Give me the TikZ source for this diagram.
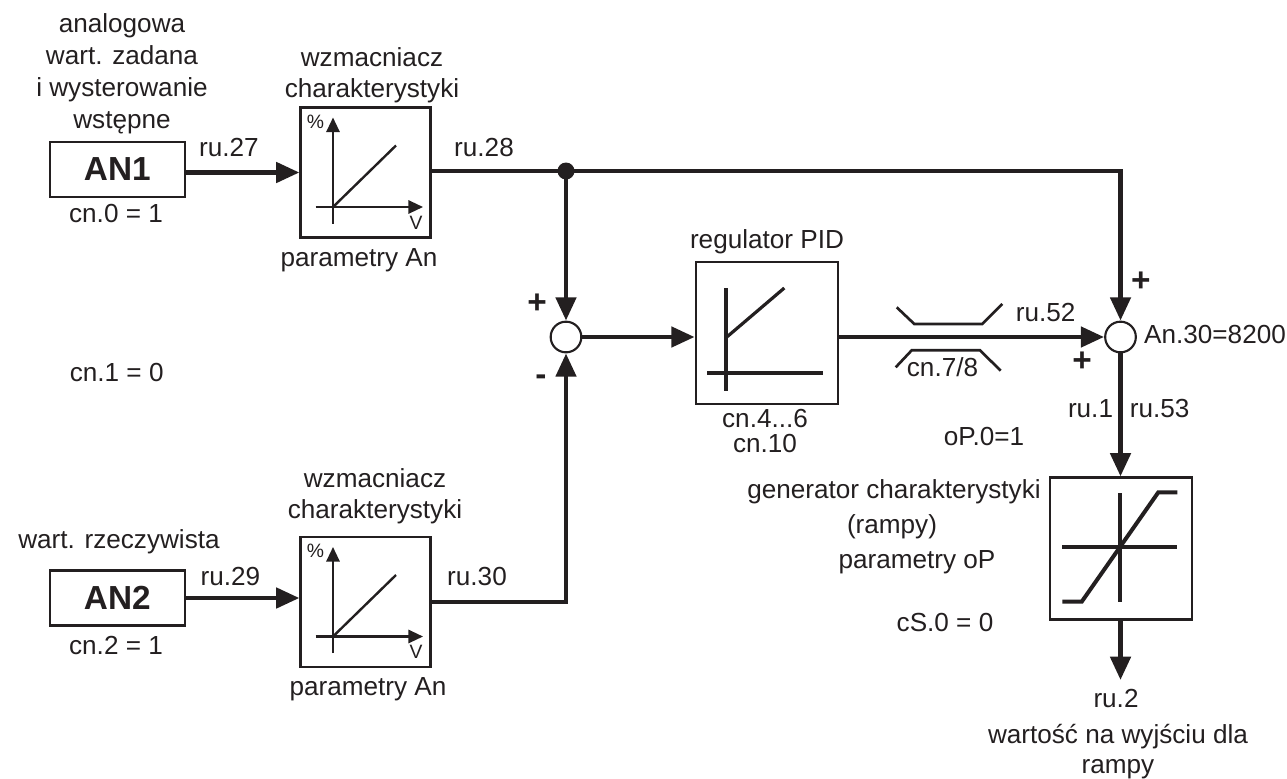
\documentclass[tikz,border=0pt]{standalone}
\usepackage{fontspec}
\setmainfont{Liberation Sans}
\usetikzlibrary{arrows.meta,positioning,calc}
\definecolor{ink}{HTML}{231F20}
\tikzset{lbl/.style={text=ink,font=\fontsize{19.6}{24}\selectfont,align=center,inner sep=0pt,anchor=base},
blok/.style={draw=ink,line width=1.6pt,fill=white,inner sep=0pt},
anbox/.style={blok,minimum width=101pt,minimum height=41.25pt,font=\fontsize{25}{28}\selectfont\bfseries,text=ink},
wzbox/.style={blok,minimum width=97.5pt,minimum height=97.5pt},
bigbox/.style={blok,minimum width=106.5pt,minimum height=106.5pt},
sumnode/.style={circle,draw=ink,line width=1.6pt,fill=white,minimum size=23pt,inner sep=0pt},
sign/.style={text=ink,font=\fontsize{25}{28}\selectfont\bfseries,inner sep=0pt},
arr/.style={-{Triangle[length=17.5pt,width=15pt]},line width=3.6pt,draw=ink},
conn/.style={line width=3.6pt,draw=ink},
axis/.style={-{Triangle[length=11pt,width=10pt]},line width=1.6pt,draw=ink},
cienka/.style={line width=1.8pt,draw=ink},
mid/.style={line width=3pt,draw=ink},
ogr/.style={line width=2pt,draw=ink}}
\begin{document}
\begin{tikzpicture}[x=0.75pt,y=-0.75pt]
\useasboundingbox (0,0) rectangle (1287,778);
% wejscia i bloki
\node[anbox](an1) at (117.3,169.5){AN1};
\node[anbox](an2) at (117.3,598){AN2};
\node[wzbox](wz1) at (365.5,172.5){};
\node[wzbox](wz2) at (365.5,602){};
\node[bigbox](pid) at (766.7,332.7){};
\node[bigbox](gen) at (1121,548.5){};
\node[sumnode](s1) at (566,337){};
\node[sumnode](s2) at (1120.5,337){};
\coordinate (jn) at (566,171);
\coordinate (wy) at (1120.5,680);
% polaczenia
\draw[arr](an1.east|-wz1)--(wz1);
\draw[arr](an2)--(an2-|wz2.west);
\draw[conn](wz1.east|-jn)--(jn);
\draw[arr](jn)--(s1);
\draw[arr](jn)-|(s2);
\fill[ink](jn) circle (8.5);
\draw[arr](wz2)-|(s1);
\draw[arr](s1)--(s1-|pid.west);
\draw[arr](pid.east|-s2)--(s2);
\draw[arr](s2)--(s2|-gen.north);
\draw[arr](s2|-gen.south)--(wy);
% charakterystyki
\foreach \n in {wz1,wz2}{
\draw[axis]($(\n)+(-32.5,51)$)--($(\n)+(-32.5,-55)$);
\draw[axis]($(\n)+(-50,34.5)$)--($(\n)+(57.5,34.5)$);
\draw[cienka]($(\n)+(-32.5,34.5)$)--($(\n)+(30.5,-27)$);
\node[lbl,font=\fontsize{14.5}{16}\selectfont,anchor=center](\n p) at ($(\n)+(-50,-51)$){\%};
\node[lbl,font=\fontsize{14.5}{16}\selectfont,anchor=center](\n v) at ($(\n)+(50.5,50)$){V};
}
\draw[mid]($(pid)+(-40.7,-44.7)$)--($(pid)+(-40.7,58)$);
\draw[mid]($(pid)+(-59.7,40.6)$)--($(pid)+(56,40.6)$);
\draw[cienka,line width=2.4pt]($(pid)+(-40.7,5)$)--($(pid)+(17.6,-44.7)$);
\draw[mid]($(gen)+(-58.7,-1.2)$)--($(gen)+(56.3,-1.2)$);
\draw[mid]($(gen)+(-1,-55.2)$)--($(gen)+(-1,53.2)$);
\draw[mid,miter limit=5]($(gen)+(-58.7,53.2)$)--($(gen)+(-39.3,53.2)$)--($(gen)+(37.3,-56.2)$)--($(gen)+(56.3,-56.2)$);
% ograniczniki
\draw[ogr](896.7,307.3)--(914.3,324)--(982.3,324)--(1002.3,304);
\draw[ogr](895.7,367.3)--(911.7,350.3)--(980,350.3)--(1000.7,370.7);
% opisy
\node[lbl](t1a) at (122,32){analogowa};
\node[lbl](t1b) at (122,64){wart. zadana};
\node[lbl](t1c) at (122,96.5){i wysterowanie};
\node[lbl](t1d) at (122,128.5){wstępne};
\node[lbl](t2a) at (372,66){wzmacniacz};
\node[lbl](t2b) at (372,97){charakterystyki};
\node[lbl](t3) at (359,266){parametry An};
\node[lbl](t4) at (116,222){cn.0 = 1};
\node[lbl](t5) at (229,156){ru.27};
\node[lbl](t6) at (484,156){ru.28};
\node[lbl](t7) at (116.7,381.7){cn.1 = 0};
\node[lbl](t8) at (119,548){wart. rzeczywista};
\node[lbl](t9) at (116,654){cn.2 = 1};
\node[lbl](t10) at (230.5,585){ru.29};
\node[lbl](t11a) at (375,487){wzmacniacz};
\node[lbl](t11b) at (375,518){charakterystyki};
\node[lbl](t12) at (368,695){parametry An};
\node[lbl](t13) at (477,585){ru.30};
\node[lbl](t14) at (767,248){regulator PID};
\node[lbl](t15a) at (765,427){cn.4...6};
\node[lbl](t15b) at (765,452){cn.10};
\node[lbl](t16) at (1045.6,321){ru.52};
\node[lbl](t17) at (942.5,376.7){cn.7/8};
\node[lbl](t18) at (1215,343){An.30=8200};
\node[lbl](t19) at (1090.5,417){ru.1};
\node[lbl](t20) at (1159.7,417){ru.53};
\node[lbl](t21) at (984,445.7){oP.0=1};
\node[lbl](t22a) at (894,498){generator charakterystyki};
\node[lbl](t22b) at (892,533){(rampy)};
\node[lbl](t22c) at (917,568){parametry oP};
\node[lbl](t23) at (945,631.7){cS.0 = 0};
\node[lbl](t24a) at (1116,707){ru.2};
\node[lbl](t24b) at (1118,743){wartość na wyjściu dla};
\node[lbl](t24c) at (1118,773){rampy};
\node[sign](p1) at (537,304){+};
\node[sign](m1) at (541,380){-};
\node[sign](p2) at (1140.8,282){+};
\node[sign](p3) at (1082,362){+};
\end{tikzpicture}
\end{document}
